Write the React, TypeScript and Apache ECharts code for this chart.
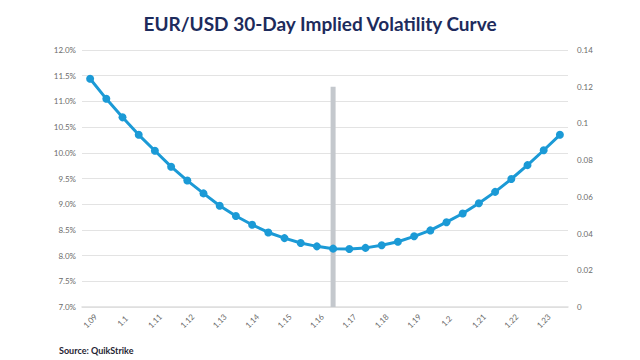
import React, { useEffect, useRef } from "react";
import * as echarts from "echarts";

const strikes = [
  "1.09", "1.095", "1.1", "1.105", "1.11", "1.115", "1.12", "1.125", "1.13", "1.135",
  "1.14", "1.145", "1.15", "1.155", "1.16", "1.165", "1.17", "1.175", "1.18", "1.185",
  "1.19", "1.195", "1.2", "1.205", "1.21", "1.215", "1.22", "1.225", "1.23", "1.235",
];
const impliedVol = [
  11.44, 11.05, 10.69, 10.35, 10.04, 9.73, 9.46, 9.21, 8.97, 8.77,
  8.6, 8.45, 8.34, 8.245, 8.18, 8.135, 8.13, 8.15, 8.2, 8.27,
  8.375, 8.49, 8.65, 8.82, 9.02, 9.24, 9.49, 9.76, 10.05, 10.35,
];
const spotMarker = strikes.map((s) => (s === "1.165" ? 0.12 : null));

export default function App() {
  const ref = useRef<HTMLDivElement>(null);
  useEffect(() => {
    if (!ref.current) return;
    const chart = echarts.init(ref.current, null, { renderer: "svg" });
    const labelStyle = { color: "#6b6b6b", fontSize: 8, fontFamily: "Lato" };
    chart.setOption({
      animation: false,
      backgroundColor: "#ffffff",
      title: {
        text: "EUR/USD 30-Day Implied Volatility Curve",
        left: "center",
        top: 9,
        textStyle: { color: "#1d2b5c", fontSize: 19, fontWeight: "bold", fontFamily: "Lato" },
      },
      graphic: [
        {
          type: "text",
          left: 59,
          top: 346,
          style: { text: "Source: QuikStrike", fill: "#1f2433", font: "bold 9px Lato" },
        },
      ],
      grid: { left: 82, right: 72, top: 50, bottom: 53 },
      xAxis: {
        type: "category",
        data: strikes,
        boundaryGap: true,
        axisLine: { show: true, lineStyle: { color: "#dedede", width: 1.5 } },
        axisTick: { show: false },
        axisLabel: {
          ...labelStyle,
          interval: 1,
          rotate: 45,
          align: "center",
          verticalAlign: "middle",
          margin: 14,
        },
      },
      yAxis: [
        {
          type: "value",
          min: 7,
          max: 12,
          interval: 0.5,
          axisLine: { show: false },
          axisTick: { show: false },
          splitLine: { lineStyle: { color: "#e3e3e3", width: 1 } },
          axisLabel: { ...labelStyle, margin: 6, formatter: (v: number) => v.toFixed(1) + "%" },
        },
        {
          type: "value",
          min: 0,
          max: 0.14,
          interval: 0.02,
          axisLine: { show: false },
          axisTick: { show: false },
          splitLine: { show: false },
          axisLabel: { ...labelStyle, margin: 9, formatter: (v: number) => String(+v.toFixed(2)) },
        },
      ],
      series: [
        {
          type: "bar",
          yAxisIndex: 1,
          data: spotMarker,
          barWidth: 5,
          itemStyle: { color: "#c4c8cd" },
          z: 1,
        },
        {
          type: "line",
          yAxisIndex: 0,
          data: impliedVol,
          symbol: "circle",
          symbolSize: 8,
          lineStyle: { color: "#1b9ad6", width: 3 },
          itemStyle: { color: "#1b9ad6" },
          z: 3,
        },
      ],
    });
    return () => chart.dispose();
  }, []);
  return <div ref={ref} style={{ width: 640, height: 360, position: "fixed", left: 0, top: 0 }} />;
}
